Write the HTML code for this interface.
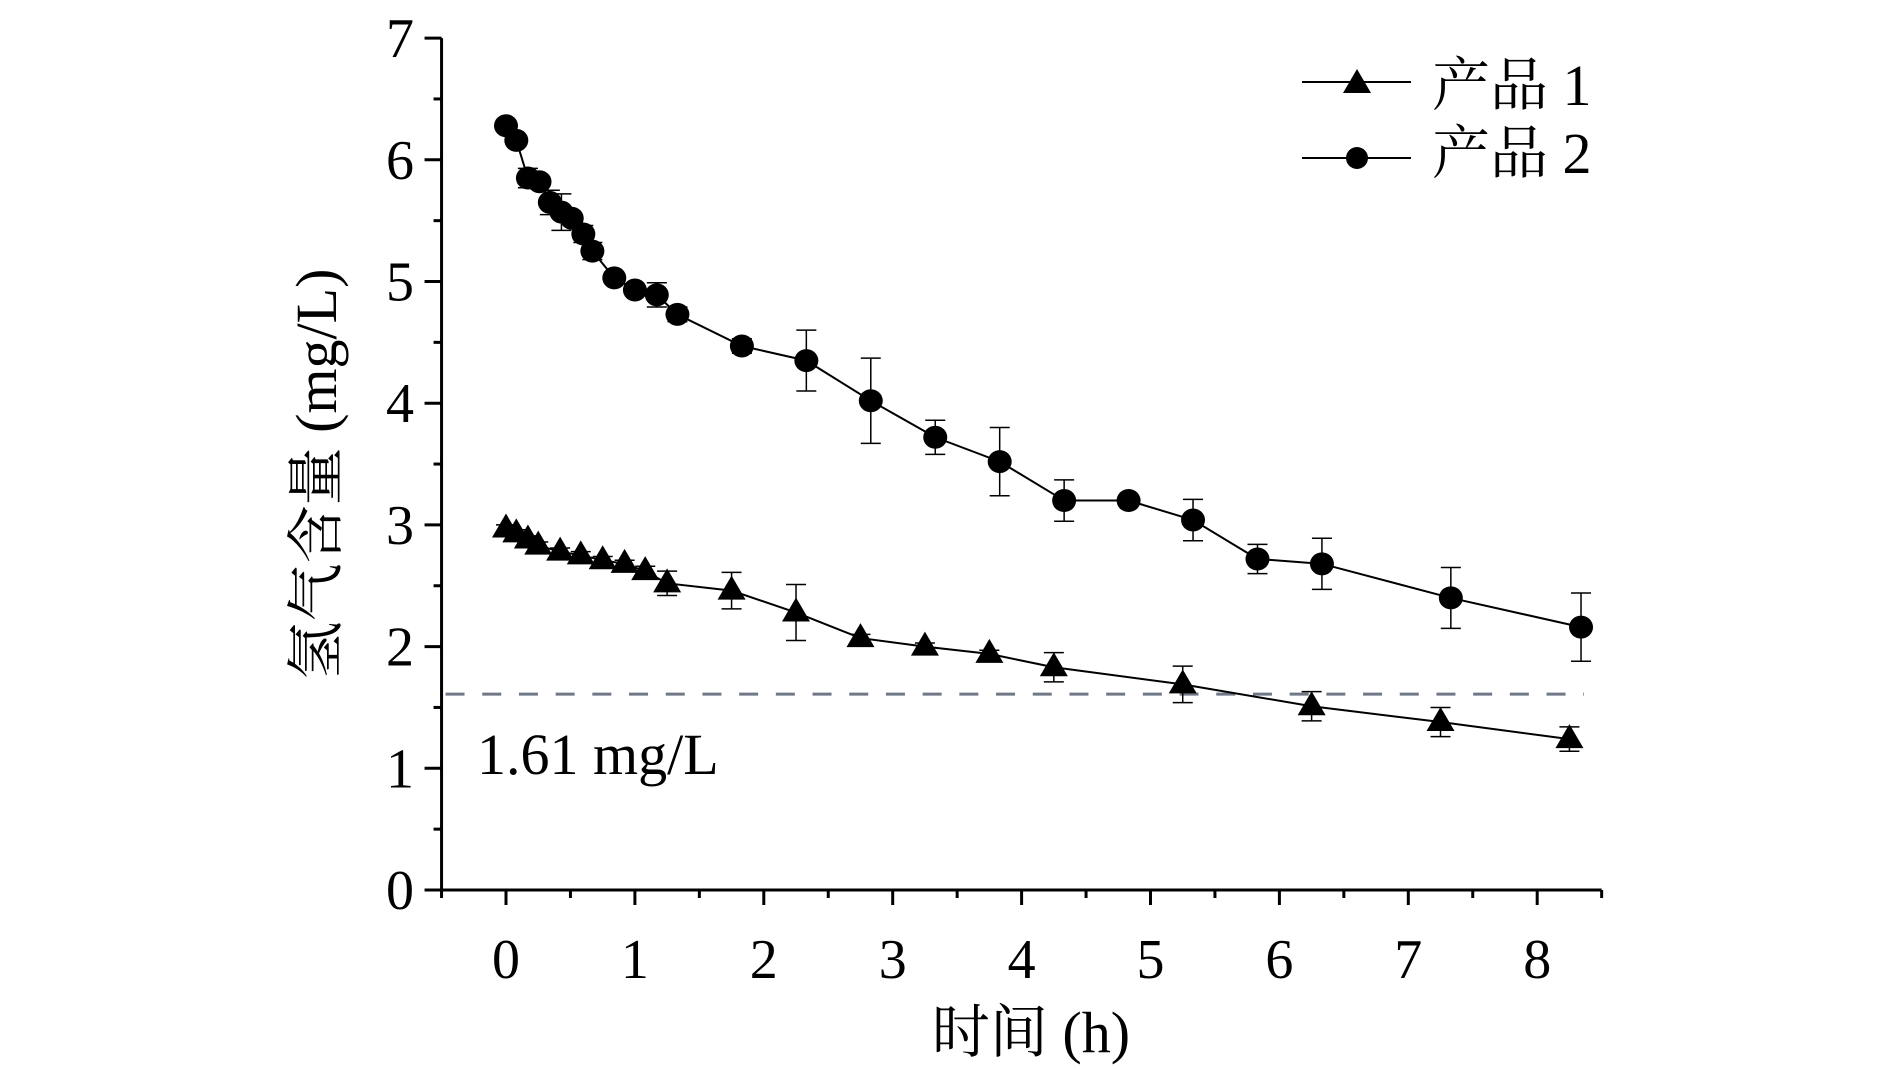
<!DOCTYPE html>
<html><head><meta charset="utf-8">
<style>
html,body{margin:0;padding:0;background:#fff;}
svg{display:block;}
text{font-family:"Liberation Serif","Times New Roman",Times,"Noto Serif CJK SC",serif;fill:#000;}
</style></head>
<body>
<svg id="chart" width="1890" height="1069" viewBox="0 0 1890 1069" xmlns="http://www.w3.org/2000/svg">
<g id="axes"></g>
<g id="series"></g>
<text x="1031" y="1052" font-size="58" text-anchor="middle" font-family="Liberation Serif, Noto Serif CJK SC, serif">时间 (h)</text>
<text x="0" y="0" font-size="58" text-anchor="middle" font-family="Liberation Serif, Noto Serif CJK SC, serif" transform="translate(336,474) rotate(-90)">氢气含量 (mg/L)</text>
<text x="477" y="774" font-size="58" font-family="Liberation Serif, serif">1.61 mg/L</text>
<g>
  <line x1="1302" y1="82" x2="1411" y2="82" stroke="#000" stroke-width="2"/>
  <polygon points="1357,69 1371,93 1343,93" fill="#000"/>
  <text x="1432" y="105" font-size="58" font-family="Liberation Serif, Noto Serif CJK SC, serif">产品 1</text>
  <line x1="1302" y1="158" x2="1411" y2="158" stroke="#000" stroke-width="2"/>
  <circle cx="1357" cy="158" r="11" fill="#000"/>
  <text x="1432" y="173" font-size="58" font-family="Liberation Serif, Noto Serif CJK SC, serif">产品 2</text>
</g>
</svg>
<script>
const xTicks = [0,1,2,3,4,5,6,7,8];
const yTicks = [0,1,2,3,4,5,6,7];
const threshold = 1.61;
const p1X = [0,0.08,0.17,0.25,0.42,0.58,0.75,0.92,1.08,1.25,1.75,2.25,2.75,3.25,3.75,4.25,5.25,6.25,7.25,8.25];
const p1Y = [2.97,2.93,2.88,2.83,2.78,2.75,2.71,2.68,2.62,2.52,2.46,2.28,2.07,2.0,1.94,1.83,1.69,1.51,1.38,1.24];
const p1Err = [0.03,0.03,0.03,0.03,0.03,0.03,0.03,0.03,0.04,0.1,0.15,0.23,0.03,0.03,0.03,0.12,0.15,0.12,0.12,0.1];
const p2X = [0,0.08,0.17,0.26,0.34,0.43,0.51,0.6,0.67,0.84,1.0,1.17,1.33,1.83,2.33,2.83,3.33,3.83,4.33,4.83,5.33,5.83,6.33,7.33,8.34];
const p2Y = [6.28,6.16,5.85,5.82,5.65,5.57,5.52,5.39,5.25,5.03,4.93,4.89,4.73,4.47,4.35,4.02,3.72,3.52,3.2,3.2,3.04,2.72,2.68,2.4,2.16];
const p2Err = [0.03,0.03,0.08,0.04,0.1,0.15,0.04,0.07,0.07,0.03,0.03,0.1,0.06,0.06,0.25,0.35,0.14,0.28,0.17,0.03,0.17,0.12,0.21,0.25,0.28];

const X0 = 506, XS = 128.9, Y0 = 890, YS = 121.7;
function sx(v){ return X0 + v*XS; }
function sy(v){ return Y0 - v*YS; }
const NS = "http://www.w3.org/2000/svg";
function mk(tag, attrs, parent){
  const e = document.createElementNS(NS, tag);
  for (const k in attrs) e.setAttribute(k, attrs[k]);
  parent.appendChild(e);
  return e;
}
const axes = document.getElementById('axes');
const series = document.getElementById('series');

let el = mk('line', {x1:sx(-0.5), y1:sy(0), x2:sx(8.5), y2:sy(0), stroke:'#000','stroke-width':3}, axes);


el = mk('line', {x1:sx(-0.5), y1:sy(0)+1.5, x2:sx(-0.5), y2:sy(7), stroke:'#000','stroke-width':3}, axes);



for (let v=-0.5; v<=8.51; v+=0.5){
  const major = Math.abs(v - Math.round(v)) < 1e-6;
  el = mk('line', {x1:sx(v), y1:sy(0), x2:sx(v), y2:sy(0)+(major?15:8), stroke:'#000','stroke-width':3}, axes);
  
  
}
xTicks.forEach(v=>{
  const t = mk('text', {x:sx(v), y:978, 'font-size':56, 'text-anchor':'middle', 'font-family':'Liberation Serif, serif'}, axes);
  t.textContent = v;
  
  
});
for (let v=0; v<=7.01; v+=0.5){
  const major = Math.abs(v - Math.round(v)) < 1e-6;
  el = mk('line', {x1:sx(-0.5)-(major?17:8), y1:sy(v), x2:sx(-0.5), y2:sy(v), stroke:'#000','stroke-width':3}, axes);
  
  
}
yTicks.forEach(v=>{
  const t = mk('text', {x:414, y:sy(v)+19, 'font-size':56, 'text-anchor':'end', 'font-family':'Liberation Serif, serif'}, axes);
  t.textContent = v;
  
  
});
el = mk('line', {x1:sx(-0.5)+4, y1:sy(threshold), x2:1584, y2:sy(threshold), stroke:'#707888','stroke-width':3,'stroke-dasharray':'19 17.7'}, axes);



function drawSeries(xs, ys, errs, shape, name){
  const g = mk('g', {}, series);
  
  
  const pts = xs.map((x,i)=>sx(x)+','+sy(ys[i])).join(' ');
  const pl = mk('polyline', {points:pts, fill:'none', stroke:'#000','stroke-width':2}, g);
  
  
  xs.forEach((x,i)=>{
    const cx = sx(x), top = sy(ys[i]+errs[i]), bot = sy(ys[i]-errs[i]);
    const eb = mk('path', {d:`M${cx},${top}V${bot}M${cx-10},${top}H${cx+10}M${cx-10},${bot}H${cx+10}`, stroke:'#000','stroke-width':1.5, fill:'none'}, g);
    
    
  });
  xs.forEach((x,i)=>{
    const cx = sx(x), cy = sy(ys[i]);
    let m;
    if (shape==='tri') m = mk('polygon', {points:`${cx},${cy-15} ${cx+14},${cy+9} ${cx-14},${cy+9}`, fill:'#000'}, g);
    else m = mk('ellipse', {cx:cx, cy:cy, rx:12, ry:11.5, fill:'#000'}, g);
    
    
  });
}
drawSeries(p1X, p1Y, p1Err, 'tri', 'product-1');
drawSeries(p2X, p2Y, p2Err, 'circle', 'product-2');
</script>
</body></html>
